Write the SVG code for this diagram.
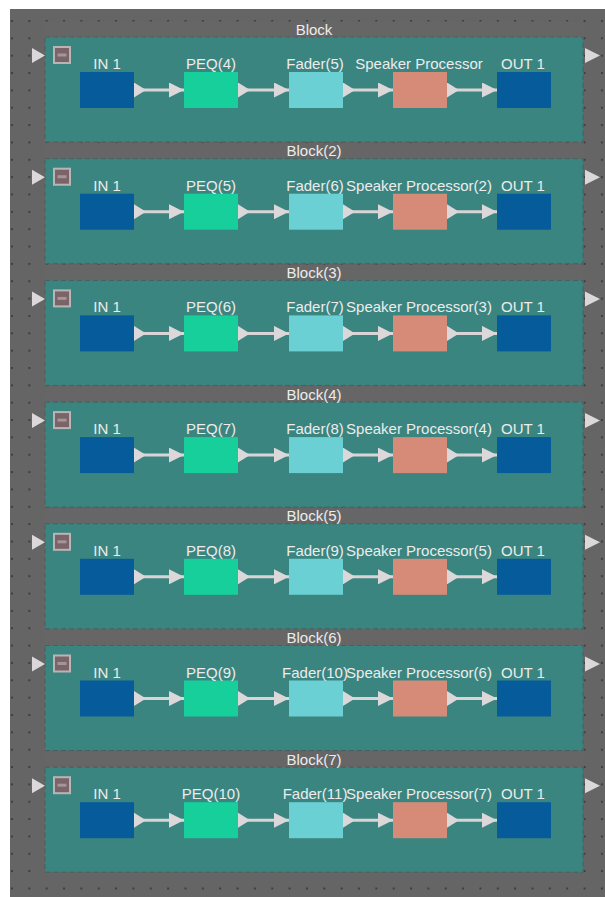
<svg xmlns="http://www.w3.org/2000/svg" width="605" height="897" viewBox="0 0 605 897">
<defs>
<style>
.bg{fill:#656565}
.frame{fill:#666666;stroke:none}
.panel{fill:#3b8580;stroke:#4a5f5d;stroke-width:1;stroke-dasharray:5 3}
.lbl{font-family:"Liberation Sans",Arial,sans-serif;font-size:15px;fill:#ececec;text-anchor:middle}
.io{fill:#065b9b}
.peq{fill:#17cf9a}
.fader{fill:#6bd0d3}
.spk{fill:#d58b78}
.port{fill:#dcd8da}
.conn{stroke:#d9d5d7;stroke-width:3;fill:none;marker-start:url(#tail);marker-end:url(#head)}
.minus-box{fill:#7b6468;stroke:#b9b5b6;stroke-width:2}
.minus-bar{fill:#a3959a}
</style>
<pattern id="dots" patternUnits="userSpaceOnUse" x="11" y="20" width="17.35" height="17.35">
<rect x="0" y="0" width="2" height="2" fill="#3e3e3e"/>
</pattern>
<marker id="head" markerUnits="userSpaceOnUse" viewBox="0 0 15 15" refX="15" refY="7.5" markerWidth="15" markerHeight="15" orient="auto">
<path d="M0,0 L15,7.5 L0,15 Z" fill="#dcd8da"/>
</marker>
<marker id="tail" markerUnits="userSpaceOnUse" viewBox="0 0 12 15" refX="0" refY="7.5" markerWidth="12" markerHeight="15" orient="auto">
<path d="M0,0 L12,7.5 L0,15 Z" fill="#dcd8da"/>
</marker>
</defs>
<rect x="0" y="0" width="605" height="897" fill="#ffffff"/>
<rect class="bg" x="10" y="9" width="595" height="888"/>
<rect x="10" y="9" width="595" height="888" fill="url(#dots)"/>

<g id="block1" transform="translate(0,37)">
<rect class="frame" x="44.5" y="-15.5" width="539" height="121"/>
<rect class="panel" x="45" y="0" width="538" height="105"/>
<text class="lbl" x="314" y="-2.5">Block</text>
<path class="port" d="M32,11 L45,18.5 L32,26 Z"/>
<path class="port" d="M585,11 L600,18.5 L585,26 Z"/>
<g id="b1-collapse"><rect class="minus-box" x="54" y="10" width="16" height="16"/><rect class="minus-bar" x="57.5" y="16.5" width="9" height="3"/></g>
<g id="b1-in"><rect class="io" x="80" y="35" width="54" height="36"/><text class="lbl" x="107" y="32">IN 1</text></g>
<g id="b1-peq"><rect class="peq" x="184" y="35" width="54" height="36"/><text class="lbl" x="211" y="32">PEQ(4)</text></g>
<g id="b1-fader"><rect class="fader" x="289" y="35" width="54" height="36"/><text class="lbl" x="315" y="32">Fader(5)</text></g>
<g id="b1-spk"><rect class="spk" x="393" y="35" width="54" height="36"/><text class="lbl" x="419" y="32">Speaker Processor</text></g>
<g id="b1-out"><rect class="io" x="497" y="35" width="54" height="36"/><text class="lbl" x="523" y="32">OUT 1</text></g>
</g>

<g id="block2" transform="translate(0,158.7)">
<rect class="frame" x="44.5" y="-15.5" width="539" height="121"/>
<rect class="panel" x="45" y="0" width="538" height="105"/>
<text class="lbl" x="314" y="-2.5">Block(2)</text>
<path class="port" d="M32,11 L45,18.5 L32,26 Z"/>
<path class="port" d="M585,11 L600,18.5 L585,26 Z"/>
<g id="b2-collapse"><rect class="minus-box" x="54" y="10" width="16" height="16"/><rect class="minus-bar" x="57.5" y="16.5" width="9" height="3"/></g>
<g id="b2-in"><rect class="io" x="80" y="35" width="54" height="36"/><text class="lbl" x="107" y="32">IN 1</text></g>
<g id="b2-peq"><rect class="peq" x="184" y="35" width="54" height="36"/><text class="lbl" x="211" y="32">PEQ(5)</text></g>
<g id="b2-fader"><rect class="fader" x="289" y="35" width="54" height="36"/><text class="lbl" x="315" y="32">Fader(6)</text></g>
<g id="b2-spk"><rect class="spk" x="393" y="35" width="54" height="36"/><text class="lbl" x="419" y="32">Speaker Processor(2)</text></g>
<g id="b2-out"><rect class="io" x="497" y="35" width="54" height="36"/><text class="lbl" x="523" y="32">OUT 1</text></g>
</g>

<g id="block3" transform="translate(0,280.4)">
<rect class="frame" x="44.5" y="-15.5" width="539" height="121"/>
<rect class="panel" x="45" y="0" width="538" height="105"/>
<text class="lbl" x="314" y="-2.5">Block(3)</text>
<path class="port" d="M32,11 L45,18.5 L32,26 Z"/>
<path class="port" d="M585,11 L600,18.5 L585,26 Z"/>
<g id="b3-collapse"><rect class="minus-box" x="54" y="10" width="16" height="16"/><rect class="minus-bar" x="57.5" y="16.5" width="9" height="3"/></g>
<g id="b3-in"><rect class="io" x="80" y="35" width="54" height="36"/><text class="lbl" x="107" y="32">IN 1</text></g>
<g id="b3-peq"><rect class="peq" x="184" y="35" width="54" height="36"/><text class="lbl" x="211" y="32">PEQ(6)</text></g>
<g id="b3-fader"><rect class="fader" x="289" y="35" width="54" height="36"/><text class="lbl" x="315" y="32">Fader(7)</text></g>
<g id="b3-spk"><rect class="spk" x="393" y="35" width="54" height="36"/><text class="lbl" x="419" y="32">Speaker Processor(3)</text></g>
<g id="b3-out"><rect class="io" x="497" y="35" width="54" height="36"/><text class="lbl" x="523" y="32">OUT 1</text></g>
</g>

<g id="block4" transform="translate(0,402.1)">
<rect class="frame" x="44.5" y="-15.5" width="539" height="121"/>
<rect class="panel" x="45" y="0" width="538" height="105"/>
<text class="lbl" x="314" y="-2.5">Block(4)</text>
<path class="port" d="M32,11 L45,18.5 L32,26 Z"/>
<path class="port" d="M585,11 L600,18.5 L585,26 Z"/>
<g id="b4-collapse"><rect class="minus-box" x="54" y="10" width="16" height="16"/><rect class="minus-bar" x="57.5" y="16.5" width="9" height="3"/></g>
<g id="b4-in"><rect class="io" x="80" y="35" width="54" height="36"/><text class="lbl" x="107" y="32">IN 1</text></g>
<g id="b4-peq"><rect class="peq" x="184" y="35" width="54" height="36"/><text class="lbl" x="211" y="32">PEQ(7)</text></g>
<g id="b4-fader"><rect class="fader" x="289" y="35" width="54" height="36"/><text class="lbl" x="315" y="32">Fader(8)</text></g>
<g id="b4-spk"><rect class="spk" x="393" y="35" width="54" height="36"/><text class="lbl" x="419" y="32">Speaker Processor(4)</text></g>
<g id="b4-out"><rect class="io" x="497" y="35" width="54" height="36"/><text class="lbl" x="523" y="32">OUT 1</text></g>
</g>

<g id="block5" transform="translate(0,523.8)">
<rect class="frame" x="44.5" y="-15.5" width="539" height="121"/>
<rect class="panel" x="45" y="0" width="538" height="105"/>
<text class="lbl" x="314" y="-2.5">Block(5)</text>
<path class="port" d="M32,11 L45,18.5 L32,26 Z"/>
<path class="port" d="M585,11 L600,18.5 L585,26 Z"/>
<g id="b5-collapse"><rect class="minus-box" x="54" y="10" width="16" height="16"/><rect class="minus-bar" x="57.5" y="16.5" width="9" height="3"/></g>
<g id="b5-in"><rect class="io" x="80" y="35" width="54" height="36"/><text class="lbl" x="107" y="32">IN 1</text></g>
<g id="b5-peq"><rect class="peq" x="184" y="35" width="54" height="36"/><text class="lbl" x="211" y="32">PEQ(8)</text></g>
<g id="b5-fader"><rect class="fader" x="289" y="35" width="54" height="36"/><text class="lbl" x="315" y="32">Fader(9)</text></g>
<g id="b5-spk"><rect class="spk" x="393" y="35" width="54" height="36"/><text class="lbl" x="419" y="32">Speaker Processor(5)</text></g>
<g id="b5-out"><rect class="io" x="497" y="35" width="54" height="36"/><text class="lbl" x="523" y="32">OUT 1</text></g>
</g>

<g id="block6" transform="translate(0,645.5)">
<rect class="frame" x="44.5" y="-15.5" width="539" height="121"/>
<rect class="panel" x="45" y="0" width="538" height="105"/>
<text class="lbl" x="314" y="-2.5">Block(6)</text>
<path class="port" d="M32,11 L45,18.5 L32,26 Z"/>
<path class="port" d="M585,11 L600,18.5 L585,26 Z"/>
<g id="b6-collapse"><rect class="minus-box" x="54" y="10" width="16" height="16"/><rect class="minus-bar" x="57.5" y="16.5" width="9" height="3"/></g>
<g id="b6-in"><rect class="io" x="80" y="35" width="54" height="36"/><text class="lbl" x="107" y="32">IN 1</text></g>
<g id="b6-peq"><rect class="peq" x="184" y="35" width="54" height="36"/><text class="lbl" x="211" y="32">PEQ(9)</text></g>
<g id="b6-fader"><rect class="fader" x="289" y="35" width="54" height="36"/><text class="lbl" x="315" y="32">Fader(10)</text></g>
<g id="b6-spk"><rect class="spk" x="393" y="35" width="54" height="36"/><text class="lbl" x="419" y="32">Speaker Processor(6)</text></g>
<g id="b6-out"><rect class="io" x="497" y="35" width="54" height="36"/><text class="lbl" x="523" y="32">OUT 1</text></g>
</g>

<g id="block7" transform="translate(0,767.2)">
<rect class="frame" x="44.5" y="-15.5" width="539" height="121"/>
<rect class="panel" x="45" y="0" width="538" height="105"/>
<text class="lbl" x="314" y="-2.5">Block(7)</text>
<path class="port" d="M32,11 L45,18.5 L32,26 Z"/>
<path class="port" d="M585,11 L600,18.5 L585,26 Z"/>
<g id="b7-collapse"><rect class="minus-box" x="54" y="10" width="16" height="16"/><rect class="minus-bar" x="57.5" y="16.5" width="9" height="3"/></g>
<g id="b7-in"><rect class="io" x="80" y="35" width="54" height="36"/><text class="lbl" x="107" y="32">IN 1</text></g>
<g id="b7-peq"><rect class="peq" x="184" y="35" width="54" height="36"/><text class="lbl" x="211" y="32">PEQ(10)</text></g>
<g id="b7-fader"><rect class="fader" x="289" y="35" width="54" height="36"/><text class="lbl" x="315" y="32">Fader(11)</text></g>
<g id="b7-spk"><rect class="spk" x="393" y="35" width="54" height="36"/><text class="lbl" x="419" y="32">Speaker Processor(7)</text></g>
<g id="b7-out"><rect class="io" x="497" y="35" width="54" height="36"/><text class="lbl" x="523" y="32">OUT 1</text></g>
</g>

<g id="connectors">
<g transform="translate(0,37)"><path class="conn" d="M134,53 H184"/><path class="conn" d="M238,53 H289"/><path class="conn" d="M343,53 H393"/><path class="conn" d="M447,53 H497"/></g>
<g transform="translate(0,158.7)"><path class="conn" d="M134,53 H184"/><path class="conn" d="M238,53 H289"/><path class="conn" d="M343,53 H393"/><path class="conn" d="M447,53 H497"/></g>
<g transform="translate(0,280.4)"><path class="conn" d="M134,53 H184"/><path class="conn" d="M238,53 H289"/><path class="conn" d="M343,53 H393"/><path class="conn" d="M447,53 H497"/></g>
<g transform="translate(0,402.1)"><path class="conn" d="M134,53 H184"/><path class="conn" d="M238,53 H289"/><path class="conn" d="M343,53 H393"/><path class="conn" d="M447,53 H497"/></g>
<g transform="translate(0,523.8)"><path class="conn" d="M134,53 H184"/><path class="conn" d="M238,53 H289"/><path class="conn" d="M343,53 H393"/><path class="conn" d="M447,53 H497"/></g>
<g transform="translate(0,645.5)"><path class="conn" d="M134,53 H184"/><path class="conn" d="M238,53 H289"/><path class="conn" d="M343,53 H393"/><path class="conn" d="M447,53 H497"/></g>
<g transform="translate(0,767.2)"><path class="conn" d="M134,53 H184"/><path class="conn" d="M238,53 H289"/><path class="conn" d="M343,53 H393"/><path class="conn" d="M447,53 H497"/></g>
</g>
</svg>
